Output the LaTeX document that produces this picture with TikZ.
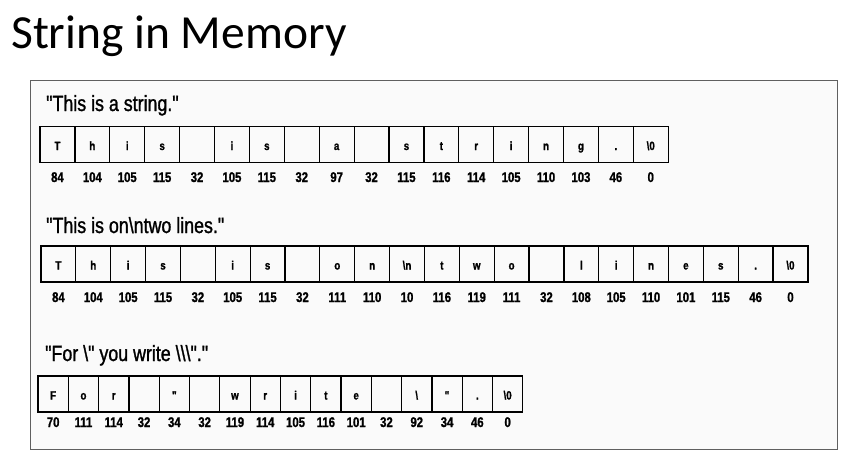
\documentclass[tikz,border=0pt]{standalone}
\usepackage{fontspec}
\setmainfont{Liberation Sans}[FakeStretch=0.81,FakeBold=1.2,Ligatures=TeXOff]
\newfontfamily\titlefont{Carlito}
\begin{document}
\begin{tikzpicture}[x=1pt,y=-1pt,
  cellbox/.style={draw=black,line width=1.2pt,inner sep=0pt,minimum height=36pt,text height=11pt,text depth=0pt,font=\fontsize{12}{14}\selectfont\bfseries},
  numlab/.style={inner sep=0pt,anchor=base,font=\fontsize{14}{16}\selectfont\bfseries},
  strtitle/.style={anchor=base west,inner sep=0pt,font=\fontsize{22}{26}\selectfont},
  frame/.style={draw={rgb,255:red,95;green,95;blue,95},line width=1.2pt,fill={rgb,255:red,250;green,250;blue,250}}]
\useasboundingbox (0,0) rectangle (851,461);
\node[anchor=base west,inner sep=0pt,font=\titlefont\fontsize{47.5}{56}\selectfont] (title) at (11,48) {String in Memory};
\node[frame,minimum width=807pt,minimum height=369pt,anchor=north west,inner sep=0pt] (panel) at (30,80) {};
% row 1
\node[strtitle] (t1) at (46,111) {"This is a string."};
\foreach \c/\v [count=\i] in {T/84,h/104,i/105,s/115,{}/32,i/105,s/115,{}/32,a/97,{}/32,s/115,t/116,r/114,i/105,n/110,g/103,./46,\textbackslash 0/0}{
  \node[cellbox,minimum width=34.9pt] (a\i) at ({40+34.9*(\i-0.5)},144.5) {\c};
  \node[numlab] (na\i) at ({40+34.9*(\i-0.5)},182) {\v};
}
% row 2
\node[strtitle] (t2) at (46,233) {"This is on\textbackslash ntwo lines."};
\foreach \c/\v [count=\i] in {T/84,h/104,i/105,s/115,{}/32,i/105,s/115,{}/32,o/111,n/110,\textbackslash n/10,t/116,w/119,o/111,{}/32,l/108,i/105,n/110,e/101,s/115,./46,\textbackslash 0/0}{
  \node[cellbox,minimum width=34.86pt] (b\i) at ({41+34.86*(\i-0.5)},264) {\c};
  \node[numlab] (nb\i) at ({41+34.86*(\i-0.5)},302) {\v};
}
% row 3
\node[strtitle] (t3) at (45,361) {"For \textbackslash" you write \textbackslash\textbackslash\textbackslash"."};
\foreach \c/\v [count=\i] in {F/70,o/111,r/114,{}/32,"/34,{}/32,w/119,r/114,i/105,t/116,e/101,{}/32,\textbackslash/92,"/34,./46,\textbackslash 0/0}{
  \node[cellbox,minimum width=30.3pt] (c\i) at ({38+30.3*(\i-0.5)},394) {\c};
  \node[numlab] (nc\i) at ({38+30.3*(\i-0.5)},427) {\v};
}
\end{tikzpicture}
\end{document}
